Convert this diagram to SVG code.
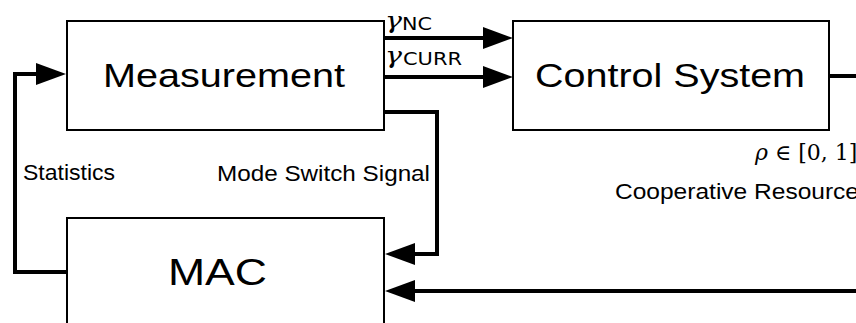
<svg xmlns="http://www.w3.org/2000/svg" width="856" height="323" viewBox="0 0 856 323">
  <style>
    .box { fill: #ffffff; stroke: #000000; stroke-width: 2; }
    .wire { fill: none; stroke: #000000; stroke-width: 4; }
    .title { font-family: "Liberation Sans", Arial, sans-serif; fill: #000000; }
    .lbl { font-family: "Liberation Sans", Arial, sans-serif; font-size: 22px; fill: #000000; }
    .sub { font-family: "DejaVu Sans", sans-serif; font-size: 18px; fill: #000000; }
    .math { font-family: "DejaVu Serif", "Liberation Serif", serif; fill: #000000; }
  </style>
  <defs>
    <marker id="head" markerUnits="userSpaceOnUse" markerWidth="30" markerHeight="22" refX="0" refY="11" orient="auto" overflow="visible">
      <path d="M0,0 L30,11 L0,22 Z" fill="#000000"/>
    </marker>
  </defs>

  <rect width="856" height="323" fill="#ffffff"/>

  <g id="measurement">
    <rect class="box" x="67" y="21" width="317" height="109"/>
    <text class="title" x="103" y="87" font-size="34" textLength="242" lengthAdjust="spacingAndGlyphs">Measurement</text>
  </g>

  <g id="control-system">
    <rect class="box" x="513" y="21" width="316" height="109"/>
    <text class="title" x="535" y="87" font-size="34" textLength="270" lengthAdjust="spacingAndGlyphs">Control System</text>
  </g>

  <g id="mac">
    <rect class="box" x="67" y="218" width="317" height="130"/>
    <text class="title" x="168" y="285" font-size="37" textLength="99" lengthAdjust="spacingAndGlyphs">MAC</text>
  </g>

  <g id="connectors">
    <!-- measurement outputs into the control system -->
    <path class="wire" d="M384,38 H483" marker-end="url(#head)"/>
    <path class="wire" d="M384,77 H483" marker-end="url(#head)"/>
    <!-- control system output leaving to the right -->
    <path class="wire" d="M829,76 H860"/>
    <!-- statistics feedback from MAC to measurement -->
    <path class="wire" d="M67,272 H15 V74 H36" marker-end="url(#head)"/>
    <!-- mode switch signal from measurement to MAC -->
    <path class="wire" d="M384,112 H437 V254 H415" marker-end="url(#head)"/>
    <!-- cooperative resource input into MAC -->
    <path class="wire" d="M860,291 H415" marker-end="url(#head)"/>
  </g>

  <g id="labels">
    <text class="math" x="385" y="28" font-size="23" font-style="italic" textLength="17" lengthAdjust="spacingAndGlyphs">γ</text>
    <text class="sub" x="402" y="30" textLength="30" lengthAdjust="spacingAndGlyphs">NC</text>
    <text class="math" x="385" y="63" font-size="23" font-style="italic" textLength="17" lengthAdjust="spacingAndGlyphs">γ</text>
    <text class="sub" x="403" y="65" textLength="59" lengthAdjust="spacingAndGlyphs">CURR</text>
    <text class="lbl" x="23" y="180" textLength="92" lengthAdjust="spacingAndGlyphs">Statistics</text>
    <text class="lbl" x="217" y="181" textLength="213" lengthAdjust="spacingAndGlyphs">Mode Switch Signal</text>
    <text class="math" x="755" y="160" font-size="22"><tspan font-style="italic">ρ</tspan> ∈ [0, 1]</text>
    <text class="lbl" x="615" y="199" textLength="244" lengthAdjust="spacingAndGlyphs">Cooperative Resource</text>
  </g>
</svg>
